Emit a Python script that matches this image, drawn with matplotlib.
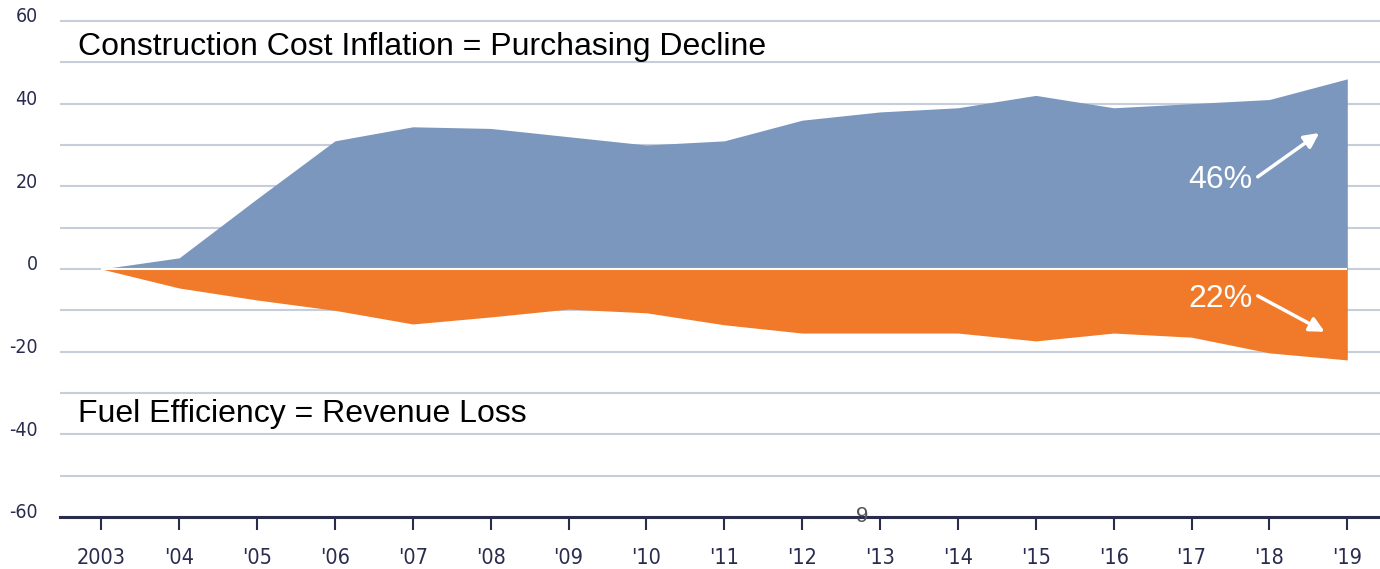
import matplotlib.pyplot as plt
import matplotlib.transforms as mtransforms
import numpy as np

# data
years = np.arange(2003, 2020)
year_labels = ["2003", "'04", "'05", "'06", "'07", "'08", "'09", "'10", "'11",
               "'12", "'13", "'14", "'15", "'16", "'17", "'18", "'19"]
construction_cost = [0, 2.7, 17, 31, 34.4, 34, 32, 30, 31, 36, 38, 39, 42, 39, 40, 41, 46]
fuel_efficiency = [0, -4.6, -7.5, -10, -13.3, -11.6, -9.7, -10.6, -13.5, -15.5, -15.5,
                   -15.5, -17.4, -15.5, -16.5, -20.3, -22]
y_ticks = [-60, -40, -20, 0, 20, 40, 60]

blue = "#7B97BE"
orange = "#F07A29"
navy = "#2A2C4E"
grid_col = "#C6CEDC"

label_font = ["DejaVu Sans"]
text_font = ["Liberation Sans", "DejaVu Sans"]

fig = plt.figure(figsize=(13.8, 5.69), dpi=100)
ax = fig.add_axes([0.0435, 0.0914, 0.9565, 0.879])

ax.fill_between(years, 0, construction_cost, color=blue, lw=0, zorder=2)
ax.fill_between(years, 0, fuel_efficiency, color=orange, lw=0, zorder=2)
ax.hlines(0, years[0], years[-1], color="white", lw=1.5, zorder=3)

ax.set_xlim(2002.47, 2019.42)
ax.set_ylim(-60, 61)

# grid every 10, labels every 20
ax.set_yticks(np.arange(-60, 61, 10), minor=True)
ax.set_yticks(y_ticks)
ax.set_yticklabels([str(v) for v in y_ticks])
ax.grid(True, axis="y", which="both", color=grid_col, lw=1.5, zorder=1)
ax.tick_params(axis="y", which="both", length=0, pad=16, labelsize=14,
               labelcolor=navy)
for lab in ax.get_yticklabels():
    lab.set_fontfamily(label_font)
    lab.set_fontstretch("condensed")
    lab.set_transform(lab.get_transform() +
                      mtransforms.ScaledTranslation(0, 6 / 100, fig.dpi_scale_trans))

ax.set_xticks(years)
ax.set_xticklabels(year_labels)
ax.tick_params(axis="x", length=9, width=1.5, color=navy, pad=13,
               labelsize=15.5, labelcolor=navy)
for lab in ax.get_xticklabels():
    lab.set_fontfamily(label_font)
    lab.set_fontstretch("condensed")

for side in ["top", "right", "left"]:
    ax.spines[side].set_visible(False)
ax.spines["bottom"].set_color(navy)
ax.spines["bottom"].set_linewidth(2.2)
ax.spines["bottom"].set_zorder(4)

ax.text(2002.70, 53.7, "Construction Cost Inflation = Purchasing Decline",
        fontsize=23, family=text_font, color="black", va="center", ha="left", zorder=5)
ax.text(2002.70, -35.1, "Fuel Efficiency = Revenue Loss",
        fontsize=23, family=text_font, color="black", va="center", ha="left", zorder=5)

ax.text(2017.78, 21.5, "46%", fontsize=23, family=text_font, color="white",
        va="center", ha="right", zorder=5)
ax.text(2017.78, -7.2, "22%", fontsize=23, family=text_font, color="white",
        va="center", ha="right", zorder=5)
ax.annotate("", xy=(2018.64, 32.9), xytext=(2017.85, 22.3),
            arrowprops=dict(arrowstyle="-|>", color="white", lw=2.5,
                            mutation_scale=22, shrinkA=0, shrinkB=0), zorder=5)
ax.annotate("", xy=(2018.71, -15.2), xytext=(2017.85, -6.5),
            arrowprops=dict(arrowstyle="-|>", color="white", lw=2.5,
                            mutation_scale=22, shrinkA=0, shrinkB=0), zorder=5)

# page number artefact sitting on the axis
ax.text(2012.77, -59.8, "9", fontsize=16, family=text_font, color="#555555",
        ha="center", va="center", zorder=5)

fig.savefig("out.png", dpi=100)
